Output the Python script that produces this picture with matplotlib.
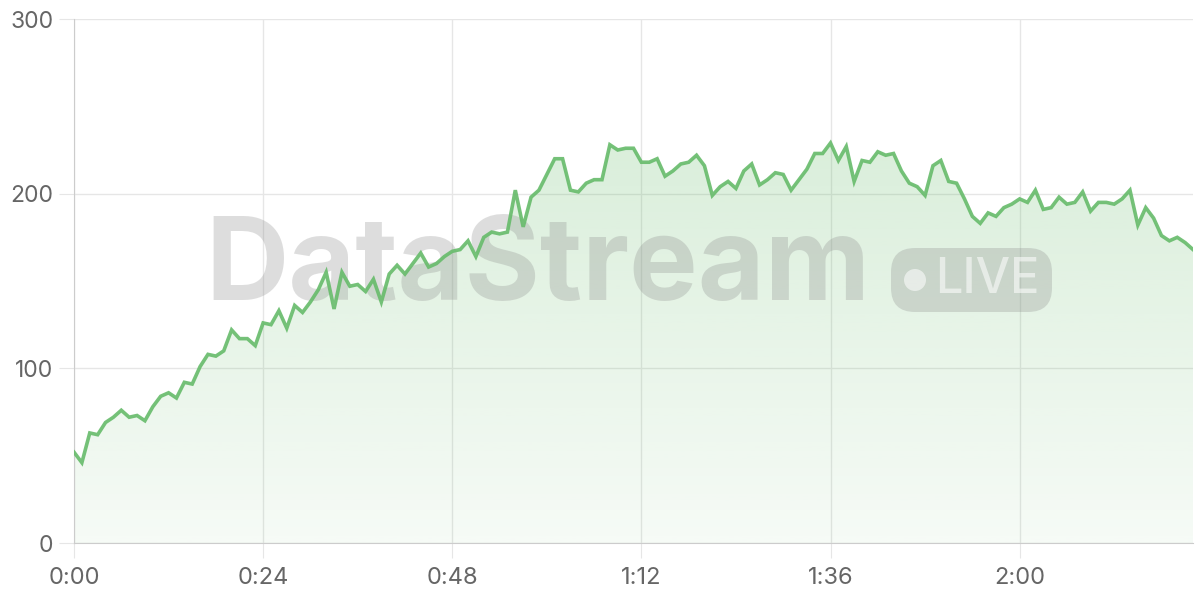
import numpy as np
import matplotlib.pyplot as plt
from matplotlib.patches import FancyBboxPatch, Circle
from matplotlib.transforms import IdentityTransform

# values sampled once per second (0:00 .. 2:22)
values = [
    52, 46, 63, 62, 69, 72, 76, 72, 73, 70,
    78, 84, 86, 83, 92, 91, 101, 108, 107, 110,
    122, 117, 117, 113, 126, 125, 133, 123, 136, 132,
    138, 145, 155, 134, 155, 147, 148, 144, 151, 138,
    154, 159, 154, 160, 166, 158, 160, 164, 167, 168,
    173, 164, 175, 178, 177, 178, 202, 181, 198, 202,
    211, 220, 220, 202, 201, 206, 208, 208, 228, 225,
    226, 226, 218, 218, 220, 210, 213, 217, 218, 222,
    216, 199, 204, 207, 203, 213, 217, 205, 208, 212,
    211, 202, 208, 214, 223, 223, 229, 219, 227, 207,
    219, 218, 224, 222, 223, 213, 206, 204, 199, 216,
    219, 207, 206, 197, 187, 183, 189, 187, 192, 194,
    197, 195, 202, 191, 192, 198, 194, 195, 201, 190,
    195, 195, 194, 197, 202, 182, 192, 186, 176, 173,
    175, 172, 168,
]
seconds = np.arange(len(values))
tick_secs = [0, 24, 48, 72, 96, 120]
tick_labels = ["%d:%02d" % (s // 60, s % 60) for s in tick_secs]

green = "#66BB6A"
plt.rcParams["font.family"] = ["Inter", "DejaVu Sans"]

fig = plt.figure(figsize=(12, 6), dpi=100)
ax = fig.add_axes([74 / 1200, 57 / 600, 1119 / 1200, 524 / 600])
ax.set_xlim(0, len(values) - 1)
ax.set_ylim(0, 300)

# gradient fill under the line
fill = ax.fill_between(seconds, values, 0, color="none", lw=0)
grad = np.zeros((256, 1, 4))
grad[..., 0] = 0x66 / 255
grad[..., 1] = 0xBB / 255
grad[..., 2] = 0x6A / 255
grad[:, 0, 3] = np.linspace(0.30, 0.06, 256)
img = ax.imshow(grad, aspect="auto", extent=(0, len(values) - 1, 0, 300),
                origin="upper", zorder=1)
img.set_clip_path(fill.get_paths()[0], transform=ax.transData)

# watermark
ax.text(0.4147, 0.521, "DataStream", transform=ax.transAxes, ha="center",
        va="center", fontsize=83, fontweight="bold", color="#888888",
        alpha=0.28, zorder=2)
badge = FancyBboxPatch((891, 288), 161, 64, boxstyle="round,pad=0,rounding_size=24",
                       transform=IdentityTransform(), facecolor="#888888",
                       edgecolor="none", alpha=0.28, zorder=2)
ax.add_artist(badge)
ax.add_artist(Circle((915, 320), 11, transform=IdentityTransform(),
                     facecolor="white", edgecolor="none", alpha=0.55, zorder=2))
fig.text(935 / 1200, 320 / 600, "LIVE", ha="left", va="center", fontsize=35,
         fontweight="medium", color="white", alpha=0.55)

ax.plot(seconds, values, color=green, lw=2.6, alpha=0.9, zorder=3,
        solid_joinstyle="miter")

ax.set_xticks(tick_secs)
ax.set_xticklabels(tick_labels)
ax.set_yticks([0, 100, 200, 300])
ax.grid(True, color="#e6e6e6", lw=1)
ax.set_axisbelow(True)
for side in ["top", "right"]:
    ax.spines[side].set_visible(False)
for side in ["left", "bottom"]:
    ax.spines[side].set_color("#cccccc")
ax.tick_params(axis="x", length=11, color="#e6e6e6", labelsize=17,
               labelcolor="#666666", pad=6)
ax.tick_params(axis="y", length=11, color="#e6e6e6", labelsize=16.5,
               labelcolor="#666666", pad=4)

fig.savefig("out.png", dpi=100)
